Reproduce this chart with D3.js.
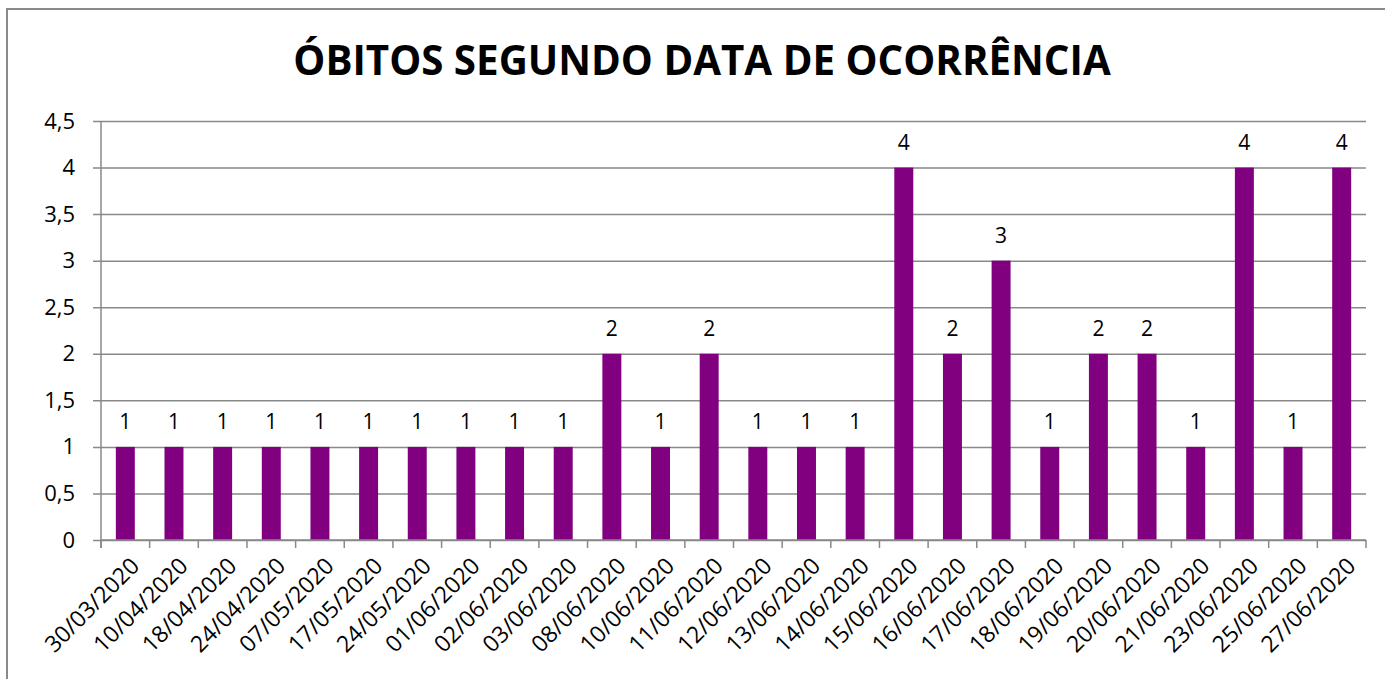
<!DOCTYPE html>
<html>
<head>
<meta charset="utf-8">
<script src="https://cdn.jsdelivr.net/npm/d3@7"></script>
<style>
  body { margin: 0; background: #fff; }
  #plot { width: 1385px; height: 679px; }
  text { font-family: "Open Sans", "Noto Sans", sans-serif; }
</style>
</head>
<body>
<div id="plot"></div>
<script>
// Chart data
const dates = ['30/03/2020', '10/04/2020', '18/04/2020', '24/04/2020', '07/05/2020', '17/05/2020',
  '24/05/2020', '01/06/2020', '02/06/2020', '03/06/2020', '08/06/2020', '10/06/2020', '11/06/2020',
  '12/06/2020', '13/06/2020', '14/06/2020', '15/06/2020', '16/06/2020', '17/06/2020', '18/06/2020',
  '19/06/2020', '20/06/2020', '21/06/2020', '23/06/2020', '25/06/2020', '27/06/2020'];
const deaths = [1, 1, 1, 1, 1, 1, 1, 1, 1, 1, 2, 1, 2, 1, 1, 1, 4, 2, 3, 1, 2, 2, 1, 4, 1, 4];
const yTicks = [0, 0.5, 1, 1.5, 2, 2.5, 3, 3.5, 4, 4.5];

function drawChart() {
  const W = 1385, H = 679;
  const margin = { top: 121, right: 19, bottom: 139, left: 101 };
  const width = W - margin.left - margin.right;
  const height = H - margin.top - margin.bottom;
  const grey = '#898989';

  const svg = d3.select('#plot').append('svg').attr('width', W).attr('height', H);

  // outer chart frame (left and top edges visible)
  svg.append('path')
    .attr('d', `M7,${H} L7,9 L${W},9`)
    .attr('fill', 'none')
    .attr('stroke', grey)
    .attr('stroke-width', 2);

  const g = svg.append('g').attr('transform', `translate(${margin.left},${margin.top})`);

  const x = d3.scaleBand().domain(dates).range([0, width]).paddingInner(0.61).paddingOuter(0.305);
  const y = d3.scaleLinear().domain([0, 4.5]).range([height, 0]);

  // horizontal grid + y axis
  const yAxis = d3.axisLeft(y).tickValues(yTicks).tickSize(-width).tickPadding(26)
    .tickFormat(d => String(d).replace('.', ','));
  const yg = g.append('g').call(yAxis);
  yg.select('.domain').remove();
  yg.selectAll('line').attr('x1', -8).attr('stroke', grey).attr('stroke-width', 1.5);
  yg.selectAll('text').style('font-size', '22px').attr('fill', '#000');

  // left axis line
  g.append('line').attr('x1', 0).attr('x2', 0).attr('y1', 0).attr('y2', height + 8)
    .attr('stroke', grey).attr('stroke-width', 1.5);

  // bars
  g.selectAll('.bar').data(deaths).enter().append('rect')
    .attr('class', 'bar')
    .attr('x', (d, i) => x(dates[i]))
    .attr('y', d => y(d))
    .attr('width', x.bandwidth())
    .attr('height', d => height - y(d))
    .attr('fill', '#800080');

  // bottom axis with ticks at category boundaries
  const step = x.step();
  const bounds = d3.range(dates.length + 1).map(i => i * step);
  g.append('line').attr('x1', 0).attr('x2', width).attr('y1', height).attr('y2', height)
    .attr('stroke', grey).attr('stroke-width', 1.5);
  g.selectAll('.xtick').data(bounds).enter().append('line')
    .attr('x1', d => d).attr('x2', d => d).attr('y1', height).attr('y2', height + 8)
    .attr('stroke', grey).attr('stroke-width', 1.5);

  // category labels, rotated
  g.selectAll('.xlabel').data(dates).enter().append('text')
    .attr('transform', d => `translate(${x(d) + x.bandwidth() / 2 + 4},${height + 16}) rotate(-45)`)
    .attr('text-anchor', 'end')
    .attr('dy', '0.7em')
    .style('font-size', '23px')
    .text(d => d);

  // value labels
  g.selectAll('.vlabel').data(deaths).enter().append('text')
    .attr('x', (d, i) => x(dates[i]) + x.bandwidth() / 2)
    .attr('y', d => y(d) - 18)
    .attr('text-anchor', 'middle')
    .style('font-size', '21px')
    .text(d => d);

  // title
  const title = svg.append('text')
    .attr('x', 702)
    .attr('y', 75)
    .attr('text-anchor', 'middle')
    .style('font-size', '38px')
    .style('font-weight', 'bold')
    .text('ÓBITOS SEGUNDO DATA DE OCORRÊNCIA');
  const tw = title.node().getComputedTextLength();
  title.style('font-size', (38 * 818 / tw).toFixed(1) + 'px');
}

drawChart();
</script>
</body>
</html>
